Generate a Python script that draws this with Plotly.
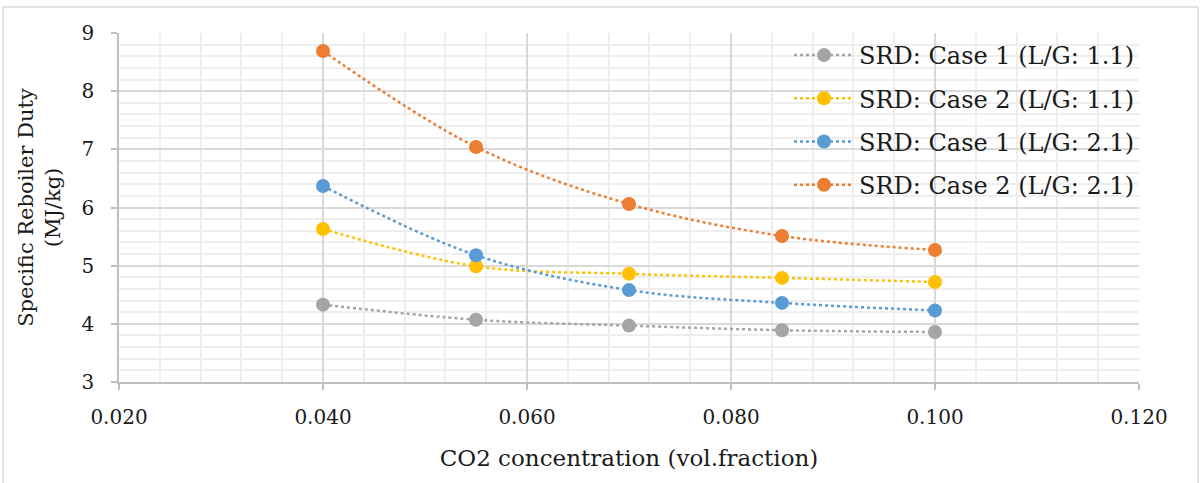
import plotly.graph_objects as go

# CO2 concentration (vol. fraction)
co2 = [0.040, 0.055, 0.070, 0.085, 0.100]

# Specific reboiler duty (MJ/kg) per case
srd_case1_lg11 = [4.33, 4.07, 3.97, 3.89, 3.86]
srd_case2_lg11 = [5.63, 4.99, 4.86, 4.79, 4.72]
srd_case1_lg21 = [6.37, 5.18, 4.58, 4.36, 4.23]
srd_case2_lg21 = [8.69, 7.04, 6.06, 5.51, 5.27]

names = [
    "SRD: Case 1 (L/G: 1.1)",
    "SRD: Case 2 (L/G: 1.1)",
    "SRD: Case 1 (L/G: 2.1)",
    "SRD: Case 2 (L/G: 2.1)",
]
colors = ["#A5A5A5", "#FFC000", "#5B9BD5", "#ED7D31"]
series = [srd_case1_lg11, srd_case2_lg11, srd_case1_lg21, srd_case2_lg21]

x_ticks = [0.020, 0.040, 0.060, 0.080, 0.100, 0.120]
y_ticks = [3, 4, 5, 6, 7, 8, 9]

FONT = "DejaVu Serif, Liberation Serif, serif"
INK = "#1a1a1a"

fig = go.Figure()
for i, (name, col, ys) in enumerate(zip(names, colors, series)):
    fig.add_trace(go.Scatter(
        x=co2, y=ys, name=name, mode="lines+markers", legendgroup=f"g{i}",
        line=dict(color=col, width=2.5, dash="dot", shape="spline", smoothing=1.0),
        marker=dict(color=col, size=14, symbol="circle"),
    ))

ML, MR, MT, MB = 119, 63, 33, 101
W, H = 1202, 483
fig.update_layout(
    width=W, height=H,
    margin=dict(l=ML, r=MR, t=MT, b=MB),
    paper_bgcolor="white", plot_bgcolor="white",
    font=dict(family=FONT, size=20, color=INK),
    showlegend=True,
    legend=dict(
        x=1.0, y=1.0, xanchor="right", yanchor="top",
        bgcolor="rgba(255,255,255,0)", font=dict(size=24, family=FONT, color=INK),
        itemwidth=60, tracegroupgap=9,
    ),
    xaxis=dict(
        range=[0.020, 0.120], tickvals=x_ticks,
        ticktext=[f"{v:.3f}" for v in x_ticks],
        showgrid=True, gridcolor="#D9D9D9", gridwidth=1.5,
        minor=dict(dtick=0.004, showgrid=True, gridcolor="#EEEEEE", gridwidth=1.5),
        showline=True, linecolor="#BFBFBF", linewidth=1.5,
        ticks="outside", ticklen=6, tickcolor="#BFBFBF", tickwidth=1.5,
        ticklabelstandoff=10,
        zeroline=False,
        title=dict(text="CO2 concentration (vol.fraction)", font=dict(size=23), standoff=22),
        tickfont=dict(size=20),
    ),
    yaxis=dict(
        range=[3, 9], tickvals=y_ticks,
        showgrid=True, gridcolor="#D9D9D9", gridwidth=1.5,
        minor=dict(dtick=0.2, showgrid=True, gridcolor="#EEEEEE", gridwidth=1.5),
        showline=True, linecolor="#BFBFBF", linewidth=1.5,
        ticks="outside", ticklen=6, tickcolor="#BFBFBF", tickwidth=1.5,
        ticklabelstandoff=13,
        zeroline=False,
        title=dict(text="Specific Reboiler Duty<br>(MJ/kg)", font=dict(size=21), standoff=15),
        tickfont=dict(size=20),
    ),
)

# light frame around the whole chart area
pw = W - ML - MR
ph = H - MT - MB
fig.add_shape(
    type="rect", xref="paper", yref="paper",
    x0=(3 - ML) / pw, x1=1 + (1198 - (W - MR)) / pw,
    y0=-(MB + 10) / ph, y1=1 + (MT - 7) / ph,
    line=dict(color="#D9D9D9", width=1.5), layer="below",
)

fig.write_html("out.html")
